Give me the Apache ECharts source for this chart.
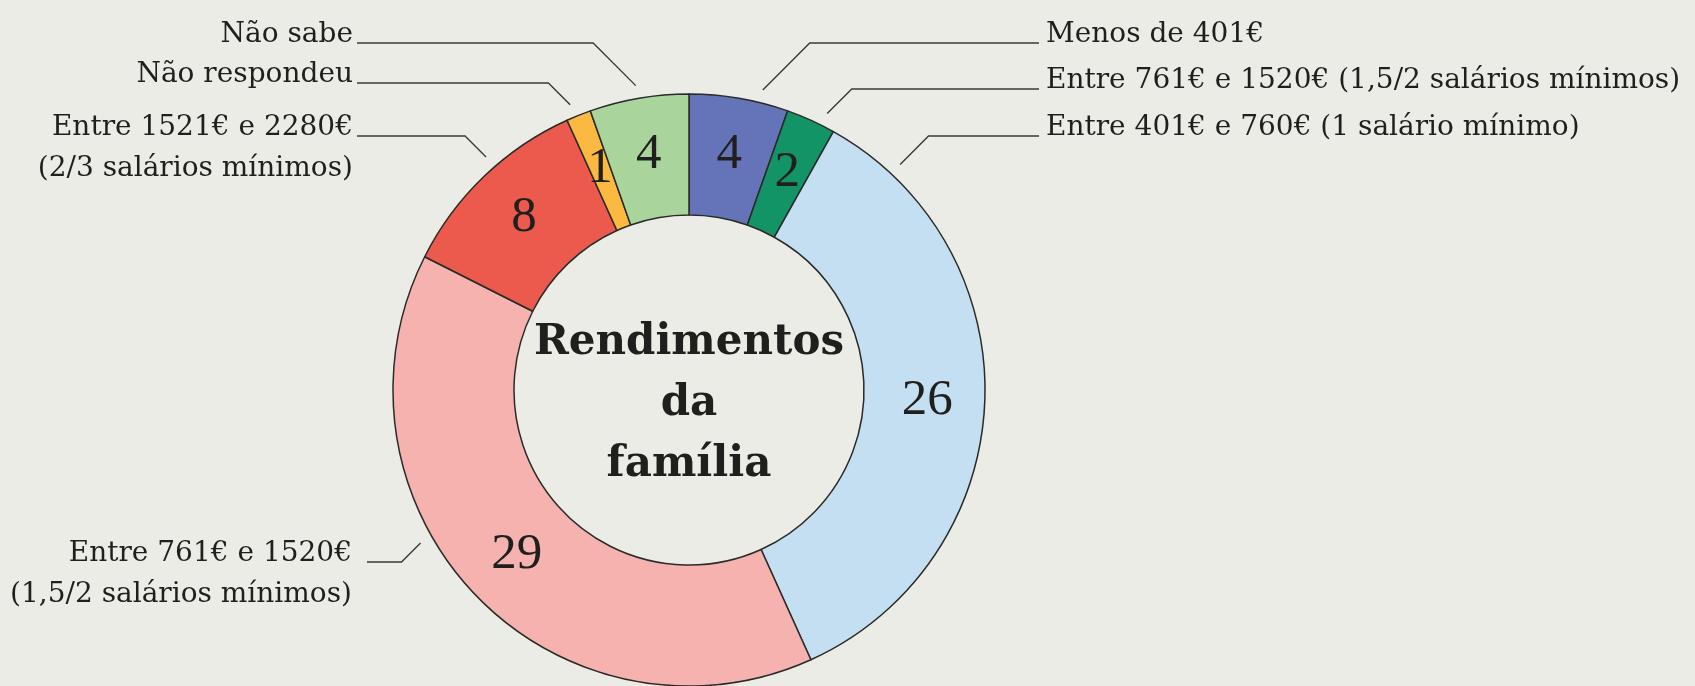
<!DOCTYPE html>
<html>
<head>
<meta charset="utf-8">
<title>Rendimentos da família</title>
<script src="https://cdn.jsdelivr.net/npm/echarts@6/dist/echarts.min.js"></script>
<style>
  html, body { margin: 0; padding: 0; background: #ecece7; }
  #chart { width: 1695px; height: 686px; }
</style>
</head>
<body>
<div id="chart"></div>
<script>
// slices, clockwise from 12 o'clock
const categories = [
  'Menos de 401€',
  'Entre 761€ e 1520€ (1,5/2 salários mínimos)',
  'Entre 401€ e 760€ (1 salário mínimo)',
  'Entre 761€ e 1520€\n(1,5/2 salários mínimos)',
  'Entre 1521€ e 2280€\n(2/3 salários mínimos)',
  'Não respondeu',
  'Não sabe'
]
const values = [4, 2, 26, 29, 8, 1, 4]
const centerTitle = 'Rendimentos\nda\nfamília'

const SLICE_COLORS = ['#6574b8', '#139467', '#c4dff2', '#f5b2ae', '#eb5a4d', '#fbb942', '#a9d49c']
const INK = '#1f1f1d'

// leader lines: where they leave the slice (fraction of the slice arc),
// the y of the horizontal part and where the text sits
const leaderAt = [0.71, 0.73, 0.11, 0.6, 0.57, 0.35, 0.49]
const leaderY = [43, 89, 136, 562, 136, 83, 43]
const leaderEndX = [1039, 1039, 1039, 367, 357, 357, 357]
const textX = [1046, 1046, 1046, 352, 353, 353, 353]

const chart = echarts.init(document.getElementById('chart'))

function placeLabel(params) {
  const i = params.dataIndex
  const lay = chart.getModel().getSeriesByIndex(params.seriesIndex).getData().getItemLayout(i)
  const a = lay.startAngle + (lay.endAngle - lay.startAngle) * leaderAt[i]
  const r = lay.r + 13
  const x0 = lay.cx + r * Math.cos(a)
  const y0 = lay.cy + r * Math.sin(a)
  const right = Math.cos(a) > 0
  const y1 = leaderY[i]
  const x1 = x0 + (right ? 1 : -1) * Math.abs(y1 - y0)
  return {
    x: textX[i],
    y: y1 - 29,
    align: right ? 'left' : 'right',
    verticalAlign: 'top',
    labelLinePoints: [[x0, y0], [x1, y1], [leaderEndX[i], y1]]
  }
}

const pieData = categories.map((name, i) => ({
  name,
  value: values[i],
  itemStyle: { color: SLICE_COLORS[i] }
}))

chart.setOption({
  animation: false,
  backgroundColor: '#ecece7',
  graphic: [{
    type: 'text',
    x: 689,
    y: 404,
    silent: true,
    style: {
      text: centerTitle,
      align: 'center',
      verticalAlign: 'middle',
      fontFamily: 'DejaVu Serif',
      fontWeight: 'bold',
      fontSize: 42,
      lineHeight: 61,
      fill: INK
    }
  }],
  series: [
    {
      type: 'pie',
      center: [689, 390],
      radius: [175, 296],
      startAngle: 90,
      clockwise: true,
      avoidLabelOverlap: false,
      itemStyle: { borderColor: '#2a2a28', borderWidth: 1.5 },
      label: {
        position: 'inside',
        formatter: '{c}',
        fontFamily: 'Liberation Serif',
        fontSize: 51,
        color: INK
      },
      labelLine: { show: false },
      emphasis: { disabled: true },
      data: pieData
    },
    {
      type: 'pie',
      silent: true,
      center: [689, 390],
      radius: [175, 296],
      startAngle: 90,
      clockwise: true,
      avoidLabelOverlap: false,
      itemStyle: { color: 'transparent', borderWidth: 0 },
      label: {
        position: 'outside',
        formatter: '{b}',
        fontFamily: 'DejaVu Serif',
        fontSize: 28,
        lineHeight: 41,
        color: INK
      },
      labelLine: { show: true, lineStyle: { color: '#3a3a38', width: 1.4 } },
      labelLayout: placeLabel,
      emphasis: { disabled: true },
      data: categories.map((name, i) => ({ name, value: values[i] }))
    }
  ]
})
</script>
</body>
</html>
